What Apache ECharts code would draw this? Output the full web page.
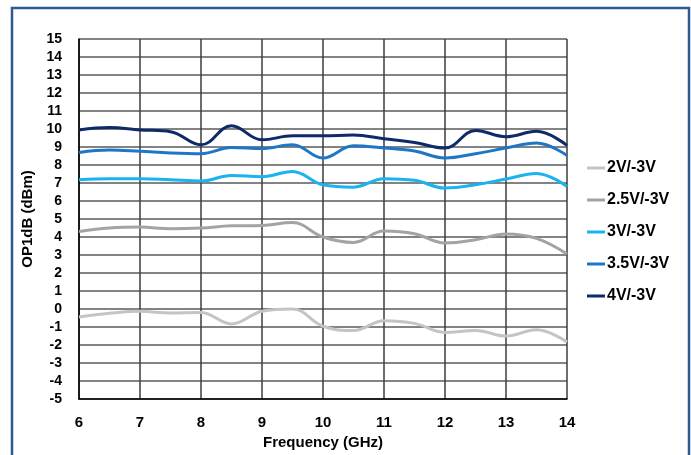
<!DOCTYPE html>
<html>
<head>
<meta charset="utf-8">
<script src="https://cdn.jsdelivr.net/npm/echarts@6/dist/echarts.min.js"></script>
<style>
  html, body { margin: 0; padding: 0; background: #ffffff; }
  #chart { width: 691px; height: 455px; }
</style>
</head>
<body>
<div id="chart"></div>
<script>
// Frequency points (GHz)
const freq = [6, 6.5, 7, 7.5, 8, 8.5, 9, 9.5, 10, 10.5, 11, 11.5, 12, 12.5, 13, 13.5, 14];

// OP1dB (dBm) per bias condition
const op2V   = [-0.44, -0.24, -0.13, -0.22, -0.19, -0.83, -0.13, 0.0, -0.96, -1.2, -0.65, -0.8, -1.3, -1.19, -1.5, -1.15, -1.83];
const op25V  = [4.31, 4.5, 4.55, 4.46, 4.5, 4.62, 4.64, 4.8, 4.0, 3.7, 4.33, 4.18, 3.67, 3.85, 4.17, 3.92, 3.05];
const op3V   = [7.18, 7.24, 7.24, 7.18, 7.11, 7.42, 7.35, 7.64, 6.9, 6.77, 7.24, 7.15, 6.72, 6.9, 7.22, 7.53, 6.81];
const op35V  = [8.70, 8.83, 8.76, 8.67, 8.63, 8.97, 8.91, 9.13, 8.39, 9.07, 8.94, 8.78, 8.39, 8.63, 8.94, 9.22, 8.53];
const op4V   = [9.95, 10.08, 9.95, 9.85, 9.12, 10.18, 9.4, 9.62, 9.62, 9.67, 9.46, 9.25, 8.94, 9.92, 9.57, 9.87, 9.09];

const seriesNames = ['2V/-3V', '2.5V/-3V', '3V/-3V', '3.5V/-3V', '4V/-3V'];
const seriesValues = [op2V, op25V, op3V, op35V, op4V];
const seriesColors = ['#c4c4c4', '#a3a3a3', '#1ab2ef', '#1f76c6', '#0e2a68'];

const FONT = '"Liberation Sans", Arial, sans-serif';

const chart = echarts.init(document.getElementById('chart'), null, { renderer: 'canvas' });

chart.setOption({
  backgroundColor: '#ffffff',
  animation: false,
  graphic: [{
    type: 'rect',
    shape: { x: 12, y: 8, width: 677, height: 470 },
    style: { fill: 'none', stroke: '#2c5a95', lineWidth: 2.5 },
    silent: true
  }],
  grid: { left: 79, right: 124, top: 39, bottom: 56, containLabel: false },
  legend: {
    orient: 'vertical',
    left: 582,
    top: 155,
    itemWidth: 18,
    itemHeight: 3,
    itemGap: 16,
    icon: 'rect',
    data: seriesNames,
    textStyle: { fontFamily: FONT, fontWeight: 'bold', fontSize: 16, color: '#000', lineHeight: 16, padding: [0, 0, 0, -3] }
  },
  xAxis: {
    type: 'value',
    min: 6, max: 14, interval: 1,
    name: 'Frequency (GHz)',
    nameLocation: 'middle',
    nameGap: 28,
    nameTextStyle: { fontFamily: FONT, fontWeight: 'bold', fontSize: 15, color: '#000' },
    axisLine: { show: true, onZero: false, lineStyle: { color: '#000', width: 1.5 } },
    axisTick: { show: false },
    axisLabel: { fontFamily: FONT, fontWeight: 'bold', fontSize: 15, color: '#000', margin: 16 },
    splitLine: { show: true, lineStyle: { color: '#3c3c3c', width: 1.5 } }
  },
  yAxis: {
    type: 'value',
    min: -5, max: 15, interval: 1,
    name: 'OP1dB (dBm)',
    nameLocation: 'middle',
    nameGap: 38,
    nameRotate: 90,
    nameTextStyle: { fontFamily: FONT, fontWeight: 'bold', fontSize: 15, color: '#000' },
    axisLine: { show: true, onZero: false, lineStyle: { color: '#000', width: 1.5 } },
    axisTick: { show: false },
    axisLabel: { fontFamily: FONT, fontWeight: 'bold', fontSize: 14, color: '#000', margin: 17 },
    splitLine: { show: true, lineStyle: { color: '#5a5a5a', width: 1.5 } }
  },
  series: seriesNames.map((name, i) => ({
    name: name,
    type: 'line',
    smooth: 0.4,
    showSymbol: false,
    symbol: 'none',
    data: freq.map((f, k) => [f, seriesValues[i][k]]),
    lineStyle: { color: seriesColors[i], width: 3 },
    itemStyle: { color: seriesColors[i] },
    z: 3 + i
  }))
});
</script>
</body>
</html>
